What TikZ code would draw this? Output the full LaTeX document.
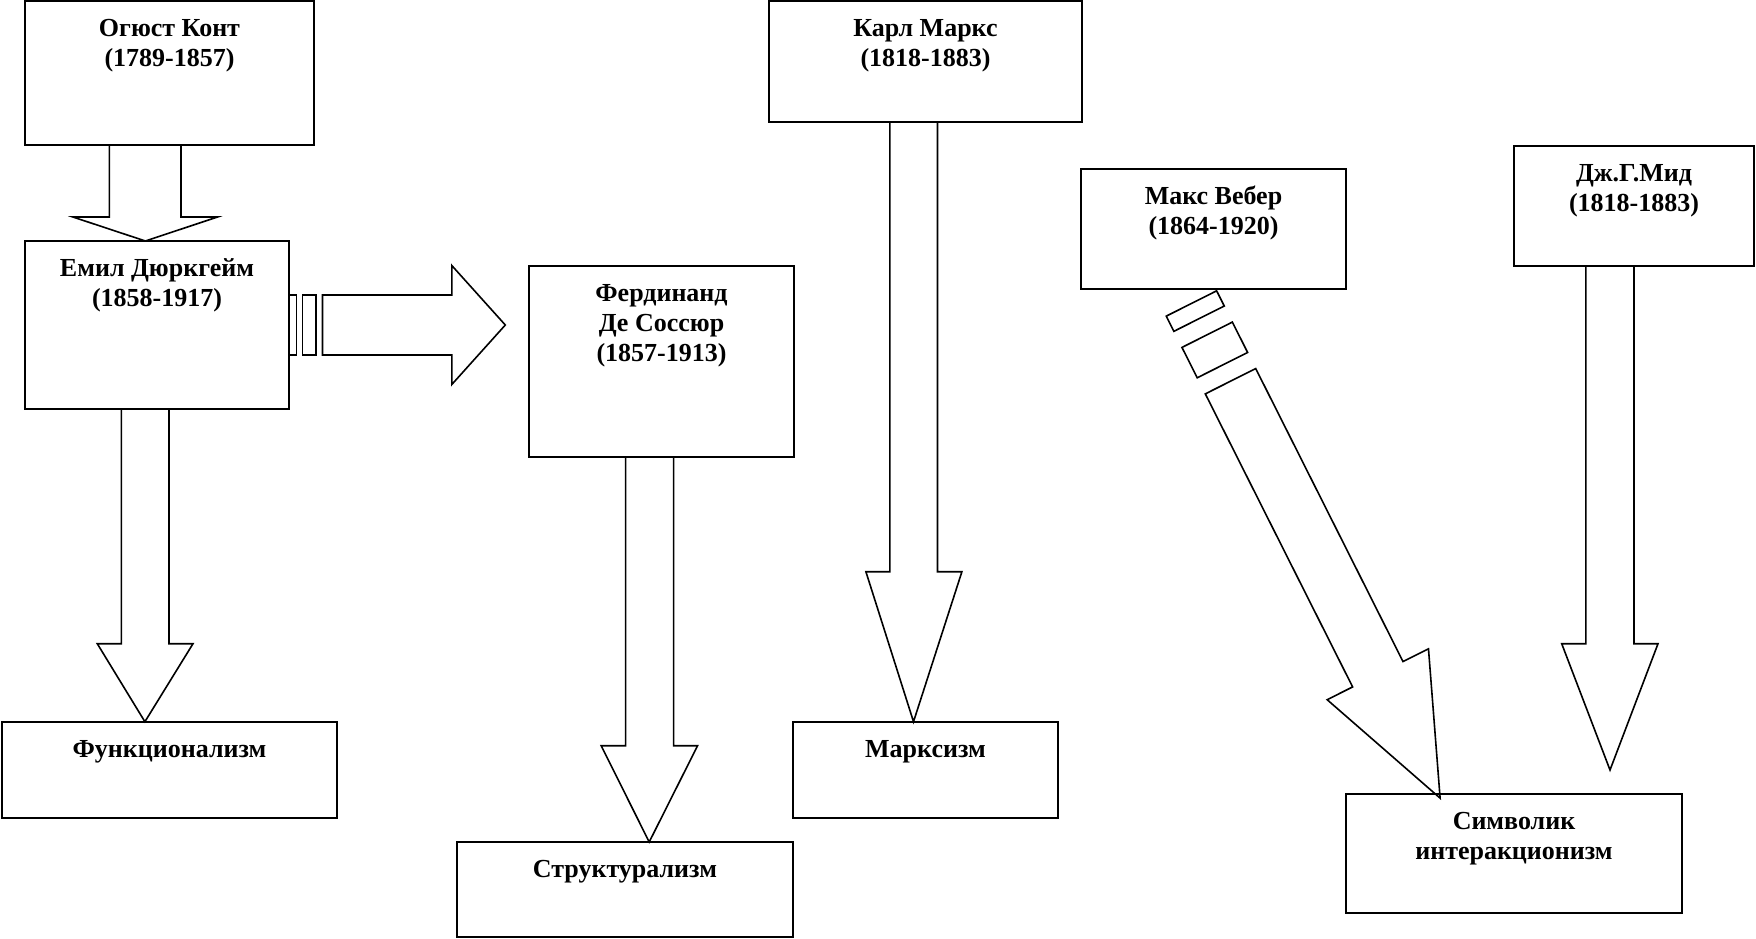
\documentclass[tikz,border=0pt]{standalone}
\usepackage{fontspec}
\setmainfont{Liberation Serif}
\newcommand{\boxtxt}[3]{\vtop to #2{\hsize=#1\parindent=0pt\centering\leavevmode\rule{0pt}{35pt}#3\par\vfill}}
\tikzset{
  blk/.style={draw, line width=2.2pt, inner sep=0pt, outer sep=0pt, anchor=north west,
    font=\bfseries\fontsize{26}{30}\selectfont},
  barrow/.style={draw, line width=1.6pt, line join=miter, fill=white},
}
\begin{document}
\begin{tikzpicture}[x=1pt,y=-1pt]
\useasboundingbox (0,0) rectangle (1756,938);
% ---------- arrows ----------
% Конт -> Дюркгейм
\draw[barrow] (109.3,145) -- (109.3,217) -- (72.9,217) -- (145.4,241) -- (217.5,217) -- (181,217) -- (181,145) -- cycle;
% Дюркгейм -> Функционализм
\draw[barrow] (121.3,409) -- (121.3,643.7) -- (97.3,643.7) -- (144.9,721.7) -- (193,643.7) -- (169,643.7) -- (169,409) -- cycle;
% Соссюр -> Структурализм
\draw[barrow] (625.6,457) -- (625.6,745.7) -- (601.2,745.7) -- (649.2,842) -- (697.6,745.7) -- (673.6,745.7) -- (673.6,457) -- cycle;
% Маркс -> Марксизм
\draw[barrow] (889.9,122) -- (889.9,571.7) -- (865.9,571.7) -- (913.5,721.7) -- (961.9,571.7) -- (937.5,571.7) -- (937.5,122) -- cycle;
% Мид -> Символик интеракционизм
\draw[barrow] (1585.8,266) -- (1585.8,643.7) -- (1561.7,643.7) -- (1610,770) -- (1658,643.7) -- (1634,643.7) -- (1634,266) -- cycle;
% Дюркгейм -> Соссюр (striped)
\begin{scope}[shift={(322.5,325)}]
  \draw[barrow] (-33.2,-30) rectangle (-26.1,30);
  \draw[barrow] (-20,-30) rectangle (-6.5,30);
  \draw[barrow] (0,-30) -- (129.3,-30) -- (129.3,-59.5) -- (182.8,0) -- (129.3,59.5) -- (129.3,30) -- (0,30) -- cycle;
\end{scope}
% Вебер -> Символик интеракционизм (striped)
\begin{scope}[shift={(1230.5,381.2)}, rotate=-63.31]
  \draw[barrow] (-87,-28.2) rectangle (-70,28.2);
  \draw[barrow] (-52,-28.2) rectangle (-18,28.2);
  \draw[barrow] (0,-28.2) -- (328,-28.2) -- (328,-56.7) -- (466.7,0) -- (328,56.7) -- (328,28.2) -- (0,28.2) -- cycle;
\end{scope}
% ---------- boxes ----------
\node[blk] (kont) at (25,1) {\boxtxt{289pt}{144pt}{Огюст Конт\\(1789-1857)}};
\node[blk] (durk) at (25,241) {\boxtxt{264pt}{168pt}{Емил Дюркгейм\\(1858-1917)}};
\node[blk] (sauss) at (529,266) {\boxtxt{265pt}{191pt}{Фердинанд\\Де Соссюр\\(1857-1913)}};
\node[blk] (marx) at (769,1) {\boxtxt{313pt}{121pt}{Карл Маркс\\(1818-1883)}};
\node[blk] (weber) at (1081,169) {\boxtxt{265pt}{120pt}{Макс Вебер\\(1864-1920)}};
\node[blk] (mead) at (1514,146) {\boxtxt{240pt}{120pt}{Дж.Г.Мид\\(1818-1883)}};
\node[blk] (func) at (2,722) {\boxtxt{335pt}{96pt}{Функционализм}};
\node[blk] (struct) at (457,842) {\boxtxt{336pt}{95pt}{Структурализм}};
\node[blk] (marxism) at (793,722) {\boxtxt{265pt}{96pt}{Марксизм}};
\node[blk] (symb) at (1346,794) {\boxtxt{336pt}{119pt}{Символик\\интеракционизм}};
\end{tikzpicture}
\end{document}
